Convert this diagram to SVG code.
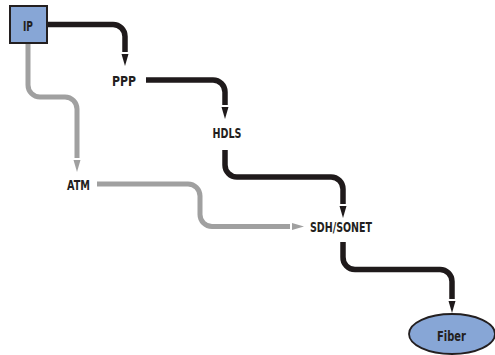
<svg xmlns="http://www.w3.org/2000/svg" width="495" height="355" viewBox="0 0 495 355">
<defs>
<style>
.lbl{font-family:"Liberation Sans Narrow","DejaVu Sans Condensed","Liberation Sans",sans-serif;font-weight:bold;font-size:14px;fill:#231f20;text-anchor:middle}
.blk{fill:none;stroke:#1f1a1b;stroke-width:5.5}
.gry{fill:none;stroke:#a0a0a0;stroke-width:5}
.shape{fill:#87a6d6;stroke:#231f20}
</style>
<marker id="ab" markerUnits="userSpaceOnUse" markerWidth="16" markerHeight="8" refX="-2" refY="3.5" orient="auto" overflow="visible"><path d="M0,0 L12,3.5 L0,7 z" fill="#1f1a1b"/></marker>
<marker id="ag" markerUnits="userSpaceOnUse" markerWidth="16" markerHeight="8" refX="-2" refY="3.5" orient="auto" overflow="visible"><path d="M0,0 L12,3.5 L0,7 z" fill="#a0a0a0"/></marker>
</defs>
<g id="connectors">
<path class="blk" marker-end="url(#ab)" d="M47,24.5 H113 A12,12 0 0 1 125,36.5 V52"/>
<path class="blk" marker-end="url(#ab)" d="M146,80 H213 A12,12 0 0 1 225,92 V105"/>
<path class="blk" marker-end="url(#ab)" d="M225,150 V165 A12,12 0 0 0 237,177 H331 A12,12 0 0 1 343,189 V204"/>
<path class="blk" marker-end="url(#ab)" d="M343,242 V257 A12,12 0 0 0 355,269.5 H440 A12,12 0 0 1 452,281.5 V299"/>
<path class="gry" marker-end="url(#ag)" d="M28,43 V85 A12,12 0 0 0 40,97 H65 A12,12 0 0 1 77,109 V158"/>
<path class="gry" marker-end="url(#ag)" d="M97,184 H188 A12,12 0 0 1 200,196 V214.5 A12,12 0 0 0 212,226.5 H290"/>
</g>
<g id="node-ip">
<rect class="shape" x="10" y="6" width="37" height="37" stroke-width="2"/>
<text class="lbl" x="28" y="31" textLength="10" lengthAdjust="spacingAndGlyphs">IP</text>
</g>
<g id="node-ppp"><text class="lbl" x="124" y="85.5" textLength="24" lengthAdjust="spacingAndGlyphs">PPP</text></g>
<g id="node-hdls"><text class="lbl" x="227" y="138" textLength="29" lengthAdjust="spacingAndGlyphs">HDLS</text></g>
<g id="node-atm"><text class="lbl" x="78.5" y="190" textLength="23" lengthAdjust="spacingAndGlyphs">ATM</text></g>
<g id="node-sdh"><text class="lbl" x="341" y="232" textLength="62" lengthAdjust="spacingAndGlyphs">SDH/SONET</text></g>
<g id="node-fiber">
<ellipse class="shape" cx="452" cy="334" rx="43" ry="20" stroke-width="1.8"/>
<text class="lbl" x="451.5" y="341" textLength="29" lengthAdjust="spacingAndGlyphs">Fiber</text>
</g>
</svg>
